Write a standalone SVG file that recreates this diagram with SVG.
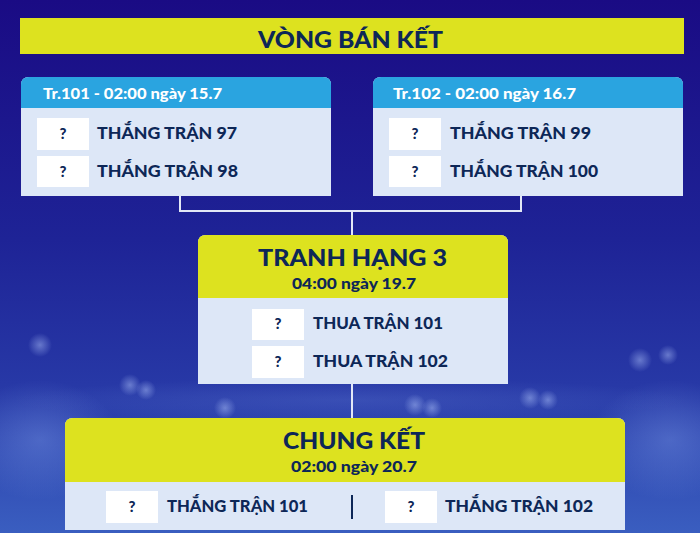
<svg xmlns="http://www.w3.org/2000/svg" width="700" height="533" viewBox="0 0 700 533">
<defs>
<linearGradient id="bg" x1="0" y1="0" x2="0" y2="1">
<stop offset="0" stop-color="#1a0b84"/>
<stop offset="0.45" stop-color="#1e2396"/>
<stop offset="0.72" stop-color="#2738a6"/>
<stop offset="1" stop-color="#3a5ec0"/>
</linearGradient>
<radialGradient id="glow" cx="0.5" cy="0.5" r="0.5">
<stop offset="0" stop-color="#8fb0f5" stop-opacity="0.45"/>
<stop offset="1" stop-color="#8fb0f5" stop-opacity="0"/>
</radialGradient>
<radialGradient id="spark" cx="0.5" cy="0.5" r="0.5">
<stop offset="0" stop-color="#b8ccff" stop-opacity="0.45"/>
<stop offset="1" stop-color="#b8ccff" stop-opacity="0"/>
</radialGradient>
<style>
.navy{fill:#0d2757;font-family:Lato,"Liberation Sans",sans-serif;font-weight:900}
.white{fill:#ffffff;font-family:Lato,"Liberation Sans",sans-serif;font-weight:900}
.yel{fill:#dde21f}
.blue{fill:#2aa4e0}
.body{fill:#dde7f7}
.box{fill:#ffffff}
.row{font-size:16px}
.q{font-size:15px}
.big{font-size:23px}
.date{font-size:15px}
.conn{fill:none;stroke:#e3e8f6;stroke-width:2}
.sp{fill:url(#spark)}
</style>
</defs>
<rect width="700" height="533" fill="url(#bg)"/>
<ellipse cx="40" cy="440" rx="80" ry="60" fill="url(#glow)" opacity="0.7"/>
<ellipse cx="670" cy="440" rx="80" ry="60" fill="url(#glow)" opacity="0.7"/>
<ellipse cx="350" cy="400" rx="340" ry="22" fill="url(#glow)" opacity="0.35"/>
<g id="lights">
<circle class="sp" cx="40" cy="345" r="12"/>
<circle class="sp" cx="130" cy="385" r="11"/>
<circle class="sp" cx="146" cy="390" r="10"/>
<circle class="sp" cx="225" cy="408" r="11"/>
<circle class="sp" cx="415" cy="405" r="11"/>
<circle class="sp" cx="432" cy="408" r="10"/>
<circle class="sp" cx="530" cy="398" r="11"/>
<circle class="sp" cx="548" cy="400" r="10"/>
<circle class="sp" cx="640" cy="360" r="12"/>
<circle class="sp" cx="668" cy="355" r="10"/>
</g>

<g id="connectors">
<polyline class="conn" points="180,196 180,211 521,211 521,196"/>
<line class="conn" x1="352" y1="211" x2="352" y2="235"/>
<line class="conn" x1="352" y1="384" x2="352" y2="418"/>
</g>

<g id="title">
<rect class="yel" x="20" y="18" width="664" height="36"/>
<text class="navy big" x="350.5" y="48" text-anchor="middle" textLength="185" lengthAdjust="spacingAndGlyphs">VÒNG BÁN KẾT</text>
</g>

<g id="match101">
<path class="body" d="M21,85 Q21,77 29,77 H323 Q331,77 331,85 V196 H21 Z"/>
<path class="blue" d="M21,85 Q21,77 29,77 H323 Q331,77 331,85 V108 H21 Z"/>
<text class="white date" x="43" y="99" textLength="179" lengthAdjust="spacingAndGlyphs">Tr.101 - 02:00 ngày 15.7</text>
<rect class="box" x="37" y="118" width="52" height="32"/>
<rect class="box" x="37" y="156" width="52" height="31"/>
<text class="navy q" x="63" y="139" text-anchor="middle">?</text>
<text class="navy q" x="63" y="177" text-anchor="middle">?</text>
<text class="navy row" x="97" y="139" textLength="140" lengthAdjust="spacingAndGlyphs">THẮNG TRẬN 97</text>
<text class="navy row" x="97" y="177" textLength="141" lengthAdjust="spacingAndGlyphs">THẮNG TRẬN 98</text>
</g>

<g id="match102">
<path class="body" d="M373,85 Q373,77 381,77 H675 Q683,77 683,85 V196 H373 Z"/>
<path class="blue" d="M373,85 Q373,77 381,77 H675 Q683,77 683,85 V108 H373 Z"/>
<text class="white date" x="393" y="99" textLength="183" lengthAdjust="spacingAndGlyphs">Tr.102 - 02:00 ngày 16.7</text>
<rect class="box" x="389" y="118" width="52" height="32"/>
<rect class="box" x="389" y="156" width="52" height="31"/>
<text class="navy q" x="415" y="139" text-anchor="middle">?</text>
<text class="navy q" x="415" y="177" text-anchor="middle">?</text>
<text class="navy row" x="450" y="139" textLength="141" lengthAdjust="spacingAndGlyphs">THẮNG TRẬN 99</text>
<text class="navy row" x="450" y="177" textLength="148" lengthAdjust="spacingAndGlyphs">THẮNG TRẬN 100</text>
</g>

<g id="third-place">
<path class="body" d="M198,243 Q198,235 206,235 H500 Q508,235 508,243 V384 H198 Z"/>
<path class="yel" d="M198,243 Q198,235 206,235 H500 Q508,235 508,243 V298 H198 Z"/>
<text class="navy big" x="352.5" y="266" text-anchor="middle" textLength="189" lengthAdjust="spacingAndGlyphs">TRANH HẠNG 3</text>
<text class="navy date" x="354" y="289" text-anchor="middle" textLength="124" lengthAdjust="spacingAndGlyphs">04:00 ngày 19.7</text>
<rect class="box" x="252" y="309" width="52" height="31"/>
<rect class="box" x="252" y="346" width="52" height="32"/>
<text class="navy q" x="278" y="329" text-anchor="middle">?</text>
<text class="navy q" x="278" y="367" text-anchor="middle">?</text>
<text class="navy row" x="313" y="329" textLength="130" lengthAdjust="spacingAndGlyphs">THUA TRẬN 101</text>
<text class="navy row" x="313" y="367" textLength="135" lengthAdjust="spacingAndGlyphs">THUA TRẬN 102</text>
</g>

<g id="final">
<path class="body" d="M65,426 Q65,418 73,418 H617 Q625,418 625,426 V530 H65 Z"/>
<path class="yel" d="M65,426 Q65,418 73,418 H617 Q625,418 625,426 V482 H65 Z"/>
<text class="navy big" x="354" y="449" text-anchor="middle" textLength="142" lengthAdjust="spacingAndGlyphs">CHUNG KẾT</text>
<text class="navy date" x="354" y="472" text-anchor="middle" textLength="126" lengthAdjust="spacingAndGlyphs">02:00 ngày 20.7</text>
<rect class="box" x="106" y="491" width="52" height="32"/>
<rect class="box" x="385" y="491" width="52" height="32"/>
<text class="navy q" x="132" y="512" text-anchor="middle">?</text>
<text class="navy q" x="411" y="512" text-anchor="middle">?</text>
<text class="navy row" x="167" y="512" textLength="141" lengthAdjust="spacingAndGlyphs">THẮNG TRẬN 101</text>
<text class="navy row" x="445" y="512" textLength="148" lengthAdjust="spacingAndGlyphs">THẮNG TRẬN 102</text>
<line x1="352" y1="495" x2="352" y2="519" stroke="#0d2757" stroke-width="2"/>
</g>
</svg>
